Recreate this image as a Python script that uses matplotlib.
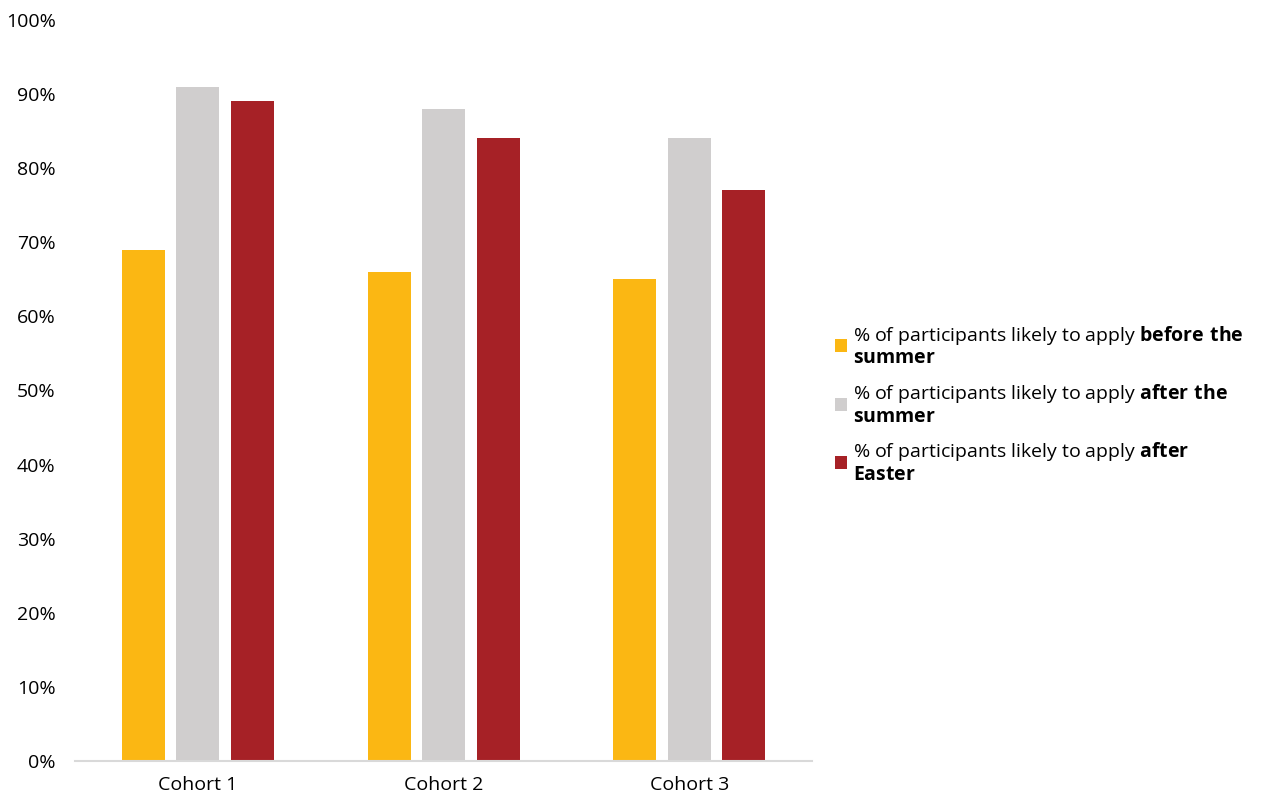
import matplotlib
matplotlib.use("Agg")
import matplotlib.pyplot as plt
import numpy as np
from matplotlib.patches import Patch

plt.rcParams['font.family'] = ['Open Sans', 'DejaVu Sans']
plt.rcParams['mathtext.fontset'] = 'custom'
plt.rcParams['mathtext.rm'] = 'Open Sans'
plt.rcParams['mathtext.bf'] = 'Open Sans:bold'

# данные
cohorts = ["Cohort 1", "Cohort 2", "Cohort 3"]
before_summer = [69, 66, 65]
after_summer = [91, 88, 84]
after_easter = [89, 84, 77]

labels = [
    "% of participants likely to apply $\\mathbf{before\\ the}$\n$\\mathbf{summer}$",
    "% of participants likely to apply $\\mathbf{after\\ the}$\n$\\mathbf{summer}$",
    "% of participants likely to apply $\\mathbf{after}$\n$\\mathbf{Easter}$",
]
colors = ["#FBB713", "#D0CECE", "#A62126"]

fig = plt.figure(figsize=(12.61, 7.92), dpi=100)
ax = fig.add_axes([0.0595, 0.039, 0.5845, 0.936])

x = np.arange(len(cohorts))
w = 0.175
off = 0.222
for i, vals in enumerate([before_summer, after_summer, after_easter]):
    ax.bar(x + (i - 1) * off, vals, width=w, color=colors[i], zorder=2)

ax.set_xlim(-0.5, 2.5)
ax.set_ylim(0, 100)
ax.set_yticks(range(0, 101, 10))
ax.set_yticklabels([f"{v}%" for v in range(0, 101, 10)])
ax.set_xticks(x)
ax.set_xticklabels(cohorts)
ax.tick_params(axis='y', length=0, pad=14, labelsize=14, colors='#000000')
ax.tick_params(axis='x', length=0, pad=11, labelsize=14)

for s in ['top', 'right', 'left']:
    ax.spines[s].set_visible(False)
ax.spines['bottom'].set_color('#D9D9D9')
ax.spines['bottom'].set_linewidth(1.5)

handles = [Patch(facecolor=c) for c in colors]
fig.legend(handles, labels, loc='center left', bbox_to_anchor=(0.648, 0.49),
           frameon=False, fontsize=14, handlelength=0.65, handleheight=0.65,
           handletextpad=0.3, labelspacing=0.75)

fig.savefig("out.png", dpi=100)
